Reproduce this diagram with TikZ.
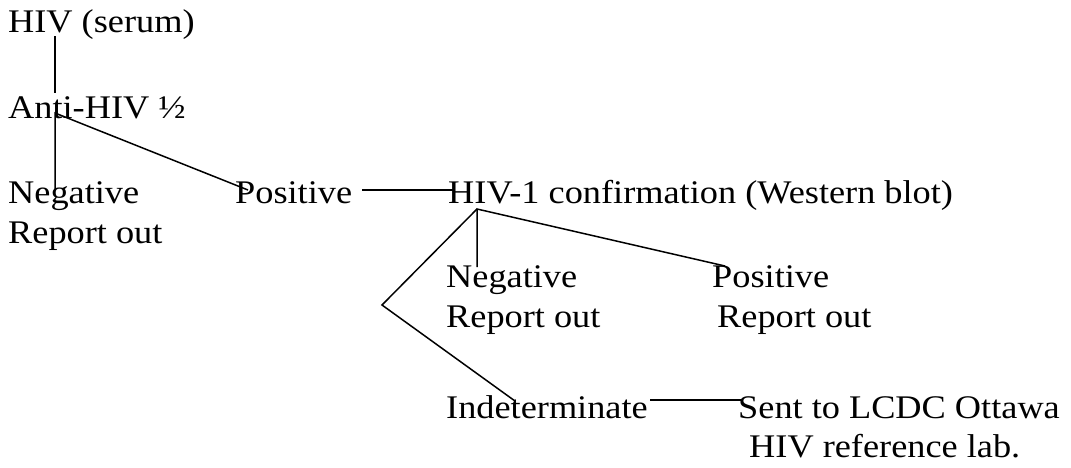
\documentclass[tikz,border=0pt]{standalone}
\usepackage{fontspec}
\setmainfont{Liberation Serif}[FakeStretch=1.1]

\tikzset{
  lbl/.style={anchor=base west, inner sep=0pt, font=\fontsize{33}{40}\selectfont},
  link/.style={line width=1.5pt},
}

\begin{document}
\begin{tikzpicture}[x=1pt,y=-1pt]
    \useasboundingbox (0,0) rectangle (1071,467);
    % texts
    \node[lbl] (serum) at (8,32)  {HIV (serum)};
    \node[lbl] (anti)  at (8,118) {Anti-HIV ½};
    \node[lbl] (neg1)  at (8,203) {Negative};
    \node[lbl] (rep1)  at ([yshift=-40pt]neg1.base west) {Report out};
    \node[lbl] (pos1)  at (235,203) {Positive};
    \node[lbl] (conf)  at (448,203) {HIV-1 confirmation (Western blot)};
    \node[lbl] (neg2)  at (446,287) {Negative};
    \node[lbl] (rep2)  at ([yshift=-40pt]neg2.base west) {Report out};
    \node[lbl] (pos2)  at (712,287) {Positive};
    \node[lbl] (rep3)  at ([xshift=5pt,yshift=-40pt]pos2.base west) {Report out};
    \node[lbl] (ind)   at (446,418) {Indeterminate};
    \node[lbl] (lcdc)  at (738,418) {Sent to LCDC Ottawa};
    \node[lbl] (ref)   at ([xshift=11pt,yshift=-39pt]lcdc.base west) {HIV reference lab.};
    % junctions
    \coordinate (v1)  at (55,36);
    \coordinate (v2)  at (55,93);
    \coordinate (v3)  at (55,113);
    \coordinate (v4)  at (55,190);
    \coordinate (v5)  at (248,190);
    \coordinate (v6)  at (362,190);
    \coordinate (v7)  at (455,190);
    \coordinate (v8)  at (477,209);
    \coordinate (v9)  at (477,267);
    \coordinate (v10) at (725,266);
    \coordinate (v11) at (382,305);
    \coordinate (v12) at (515,401);
    \coordinate (v13) at (650,400);
    \coordinate (v14) at (743,400);
    % links
    \draw[link] (v1) -- (v2);
    \draw[link] (v4) -- (v3) -- (v5);
    \draw[link] (v6) -- (v7);
    \draw[link] (v9) -- (v8) -- (v10);
    \draw[link] (v8) -- (v11) -- (v12);
    \draw[link] (v13) -- (v14);
\end{tikzpicture}
\end{document}
